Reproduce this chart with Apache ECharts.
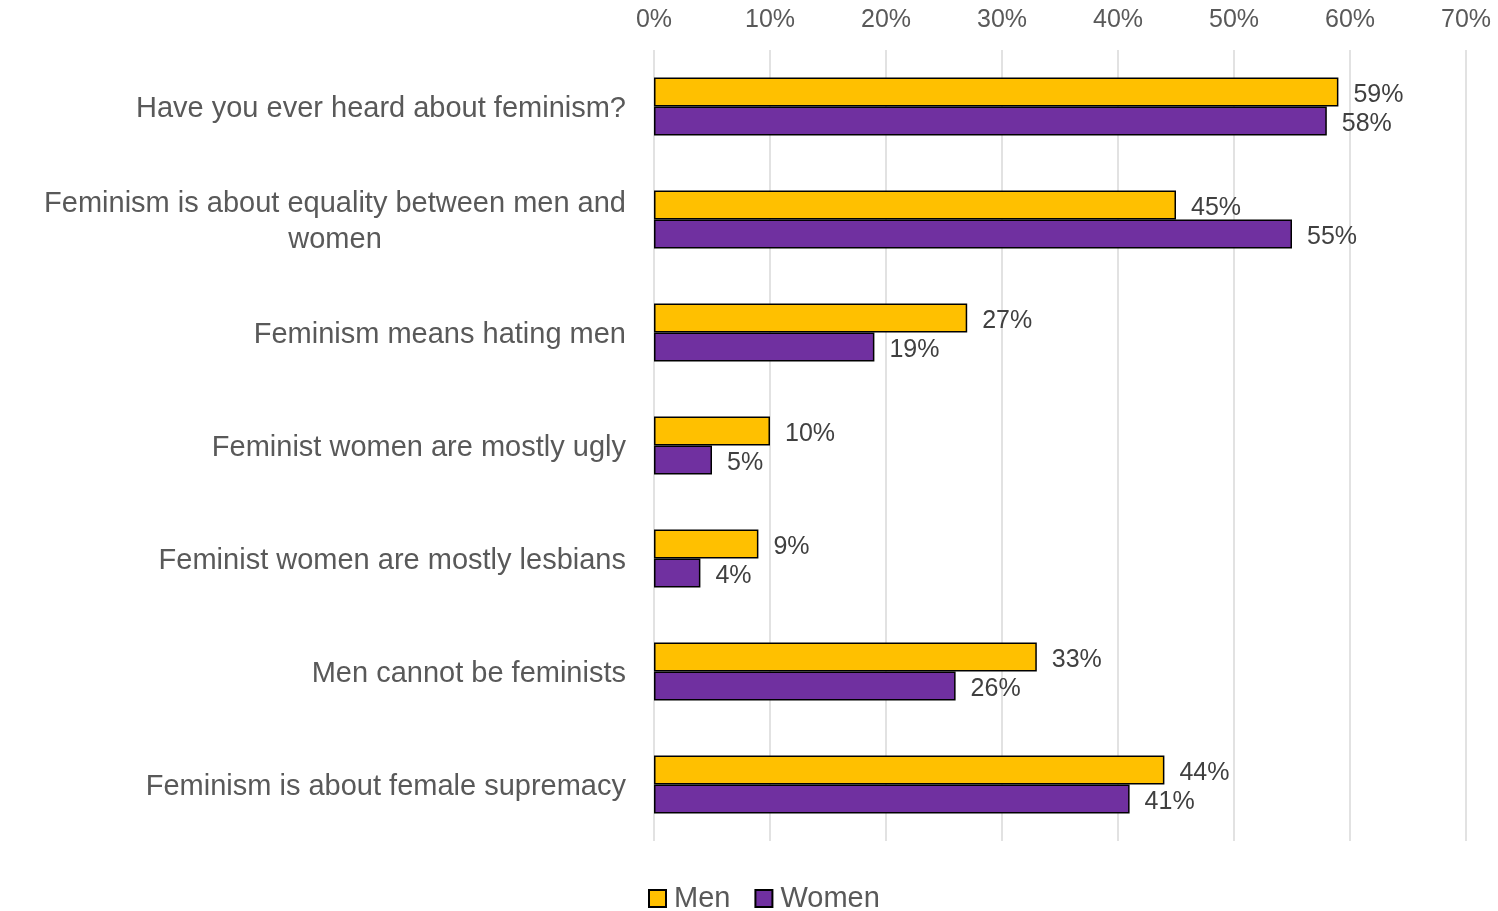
<!DOCTYPE html>
<html lang="en">
<head>
    <meta charset="utf-8">
    <title>Feminism survey</title>
    <script type="text/javascript" src="https://cdn.jsdelivr.net/npm/echarts@6/dist/echarts.min.js"></script>
    <style>
        html, body { margin: 0; padding: 0; background: #fff; }
    </style>
</head>
<body>
<div id="main" style="width: 1498px;height:911px;"></div>

<script>
    // 问题
    var questions = [
        'Have you ever heard about feminism?',
        'Feminism is about equality between men and\nwomen',
        'Feminism means hating men',
        'Feminist women are mostly ugly',
        'Feminist women are mostly lesbians',
        'Men cannot be feminists',
        'Feminism is about female supremacy'
    ];
    var menValues = [59, 45, 27, 10, 9, 33, 44];
    var womenValues = [58, 55, 19, 5, 4, 26, 41];
    var seriesNames = ['Men', 'Women'];

    var chartDom = document.getElementById('main');
    var myChart = echarts.init(chartDom);
    var font = '"Liberation Sans", Arial, sans-serif';

    var labelStyle = {
        show: true,
        position: 'right',
        distance: 15,
        offset: [0, 3],
        formatter: '{c}%',
        fontSize: 25,
        color: '#404040'
    };

    var option = {
        animation: false,
        textStyle: { fontFamily: font },
        grid: {
            left: 654,
            right: 32,
            top: 50,
            bottom: 70,
            containLabel: false
        },
        legend: {
            data: seriesNames,
            bottom: -7,
            left: 643,
            itemWidth: 17,
            itemHeight: 17,
            itemGap: 24,
            icon: 'rect',
            textStyle: { fontSize: 29, color: '#595959', fontFamily: font, padding: [0, 0, 0, 3] }
        },
        xAxis: {
            type: 'value',
            position: 'top',
            min: 0,
            max: 70,
            interval: 10,
            axisLine: { show: false },
            axisTick: { show: false },
            axisLabel: {
                formatter: '{value}%',
                fontSize: 25,
                color: '#595959',
                margin: 17
            },
            splitLine: { lineStyle: { color: '#D9D9D9', width: 1.5 } }
        },
        yAxis: {
            type: 'category',
            inverse: true,
            data: questions,
            axisLine: { show: false },
            axisTick: { show: false },
            axisLabel: {
                margin: 28,
                formatter: function (v) {
                    return v.split('\n').map(function (s) { return '{c|' + s + '}'; }).join('\n');
                },
                rich: {
                    c: { fontSize: 29, color: '#595959', align: 'center', lineHeight: 36, padding: [5, 0, 0, 0], fontFamily: font }
                }
            }
        },
        series: [
            {
                name: 'Men',
                type: 'bar',
                data: menValues,
                barWidth: 29,
                barGap: '0%',
                itemStyle: { color: '#FFC000', borderColor: '#000', borderWidth: 1.5 },
                label: labelStyle
            },
            {
                name: 'Women',
                type: 'bar',
                data: womenValues,
                barWidth: 29,
                barGap: '0%',
                itemStyle: { color: '#7030A0', borderColor: '#000', borderWidth: 1.5 },
                label: labelStyle
            }
        ]
    };
    myChart.setOption(option);
</script>
</body>
</html>
